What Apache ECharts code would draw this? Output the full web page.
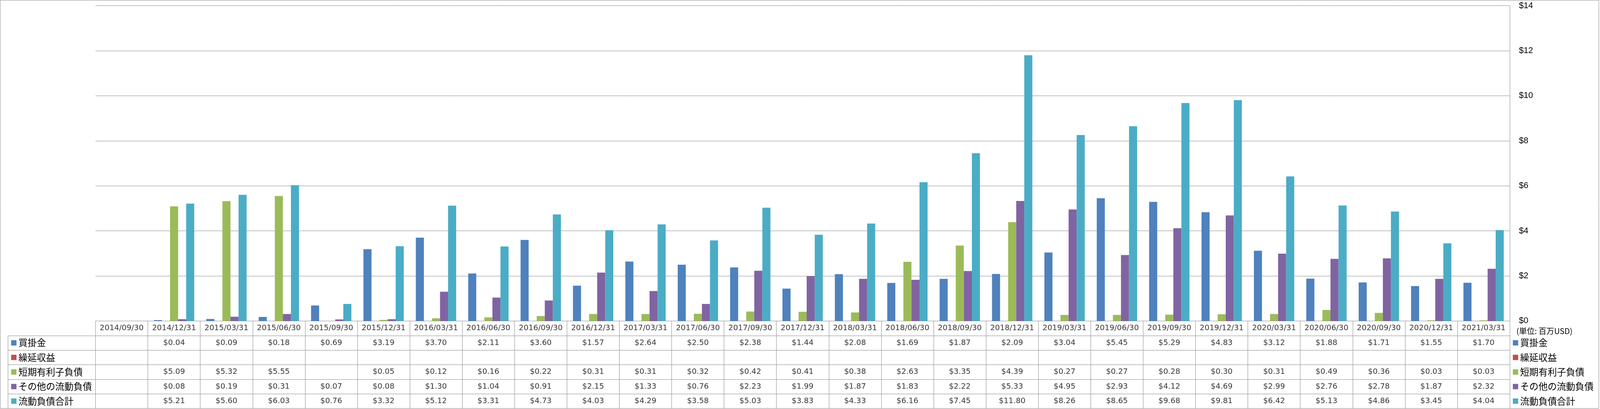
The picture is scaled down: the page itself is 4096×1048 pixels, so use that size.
<!DOCTYPE html>
<html><head><meta charset="utf-8">
<script src="https://cdn.jsdelivr.net/npm/echarts@6/dist/echarts.min.js"></script>
<style>html,body{margin:0;padding:0;background:#fff;overflow:hidden}#c{width:4096px;height:1048px}</style>
</head><body><div id="c"></div>
<script>
// ---- data ----
const dates = ['2014/09/30','2014/12/31','2015/03/31','2015/06/30','2015/09/30','2015/12/31','2016/03/31','2016/06/30','2016/09/30','2016/12/31','2017/03/31','2017/06/30','2017/09/30','2017/12/31','2018/03/31','2018/06/30','2018/09/30','2018/12/31','2019/03/31','2019/06/30','2019/09/30','2019/12/31','2020/03/31','2020/06/30','2020/09/30','2020/12/31','2021/03/31'];
const seriesNames = ['買掛金','繰延収益','短期有利子負債','その他の流動負債','流動負債合計'];
const accountsPayable = [null,0.04,0.09,0.18,0.69,3.19,3.70,2.11,3.60,1.57,2.64,2.50,2.38,1.44,2.08,1.69,1.87,2.09,3.04,5.45,5.29,4.83,3.12,1.88,1.71,1.55,1.70];
const deferredRevenue = [null,null,null,null,null,null,null,null,null,null,null,null,null,null,null,null,null,null,null,null,null,null,null,null,null,null,null];
const shortTermDebt = [null,5.09,5.32,5.55,null,0.05,0.12,0.16,0.22,0.31,0.31,0.32,0.42,0.41,0.38,2.63,3.35,4.39,0.27,0.27,0.28,0.30,0.31,0.49,0.36,0.03,0.03];
const otherCurrentLiab = [null,0.08,0.19,0.31,0.07,0.08,1.30,1.04,0.91,2.15,1.33,0.76,2.23,1.99,1.87,1.83,2.22,5.33,4.95,2.93,4.12,4.69,2.99,2.76,2.78,1.87,2.32];
const totalCurrentLiab = [null,5.21,5.60,6.03,0.76,3.32,5.12,3.31,4.73,4.03,4.29,3.58,5.03,3.83,4.33,6.16,7.45,11.80,8.26,8.65,9.68,9.81,6.42,5.13,4.86,3.45,4.04];
const yMin = 0, yMax = 14, yStep = 2;
const unitLabel = '(単位: 百万USD)';

// ---- styling / layout ----
const colors = ['#4F81BD','#C0504D','#9BBB59','#8064A2','#4BACC6'];
const gray = '#898989';
const S = 0.978;
const plotL = 250*S, plotR = 3952*S, plotT = 15*S, plotB = 841*S, tableB = 1070*S;
const rowH = (tableB - plotB)/6;
const tableFont = "'DejaVu Sans','Noto Sans CJK JP',sans-serif";
const cjkFont = "'Noto Sans CJK JP',sans-serif";

const values = [accountsPayable, deferredRevenue, shortTermDebt, otherCurrentLiab, totalCurrentLiab];
const tableData = [];
dates.forEach((d,i)=>tableData.push([i,0.5,d]));
values.forEach((arr,r)=>arr.forEach((v,i)=>{ if(v!==null) tableData.push([i,r+1.5,'$'+v.toFixed(2)]); }));

const chart = echarts.init(document.getElementById('c'), null, {renderer:'canvas'});
const LH = 28;
const legendBase = {
  data: seriesNames, orient:'vertical', icon:'rect', itemWidth:13.7, itemHeight:13.7,
  itemGap: rowH-LH, selectedMode:false, padding:0,
  textStyle:{fontSize:23.5, fontFamily:cjkFont, color:'#000', lineHeight:LH}
};
chart.setOption({
  animation:false,
  color: colors,
  title:{ text: unitLabel, left: 3882, top: 838, padding:0,
    textStyle:{fontSize:20, fontWeight:'normal', fontFamily:cjkFont, color:'#000'} },
  legend:[
    Object.assign({}, legendBase, {left: 28.5, top: plotB+rowH+(rowH-LH)/2}),
    Object.assign({}, legendBase, {left: 3960*S, top: plotB+rowH+(rowH-LH)/2})
  ],
  grid:[
    {left:plotL, width:plotR-plotL, top:plotT, height:plotB-plotT},
    {left:plotL, width:plotR-plotL, top:plotB, height:tableB-plotB},
    {left:21*S, width:plotL-21*S, top:plotB+rowH, height:tableB-plotB-rowH}
  ],
  xAxis:[
    {type:'category', gridIndex:0, data:dates, axisLabel:{show:false}, axisTick:{show:false},
     axisLine:{show:true, lineStyle:{color:gray, width:1}}},
    {type:'category', gridIndex:1, data:dates, axisLabel:{show:false}, axisTick:{show:false},
     axisLine:{show:false}, splitLine:{show:true, lineStyle:{color:gray, width:1}}},
    {type:'value', gridIndex:2, min:0, max:1, show:false}
  ],
  yAxis:[
    {type:'value', gridIndex:0, position:'right', min:yMin, max:yMax, interval:yStep,
     axisLine:{show:true, lineStyle:{color:gray, width:1}}, axisTick:{show:false},
     splitLine:{show:true, lineStyle:{color:gray, width:1}},
     axisLabel:{margin:23.5, fontSize:21.5, fontFamily:"'Liberation Sans',Arial,sans-serif", color:'#000',
       formatter:v=>'$'+v}},
    {type:'value', gridIndex:1, min:0, max:6, interval:1, inverse:true,
     axisLine:{show:true, lineStyle:{color:gray, width:1}}, axisTick:{show:false}, axisLabel:{show:false},
     splitLine:{show:true, lineStyle:{color:gray, width:1}}},
    {type:'value', gridIndex:2, min:0, max:5, interval:1, inverse:true,
     axisLine:{show:true, lineStyle:{color:gray, width:1}}, axisTick:{show:false}, axisLabel:{show:false},
     splitLine:{show:true, lineStyle:{color:gray, width:1}}}
  ],
  series: seriesNames.map((n,k)=>({
    name:n, type:'bar', xAxisIndex:0, yAxisIndex:0, data:values[k],
    barGap:'0%', barCategoryGap:'23%', itemStyle:{color:colors[k]}
  })).concat([{
    type:'scatter', xAxisIndex:1, yAxisIndex:1, data:tableData, symbolSize:0, silent:true,
    label:{show:true, position:'inside', formatter:p=>p.value[2], fontSize:19.5, fontFamily:tableFont, color:'#000'}
  }]),
  graphic:[{type:'rect', silent:true, z:100, shape:{x:0.5, y:0.5, width:4092.5, height:1046},
    style:{fill:null, stroke:gray, lineWidth:1}}]
});
</script></body></html>
